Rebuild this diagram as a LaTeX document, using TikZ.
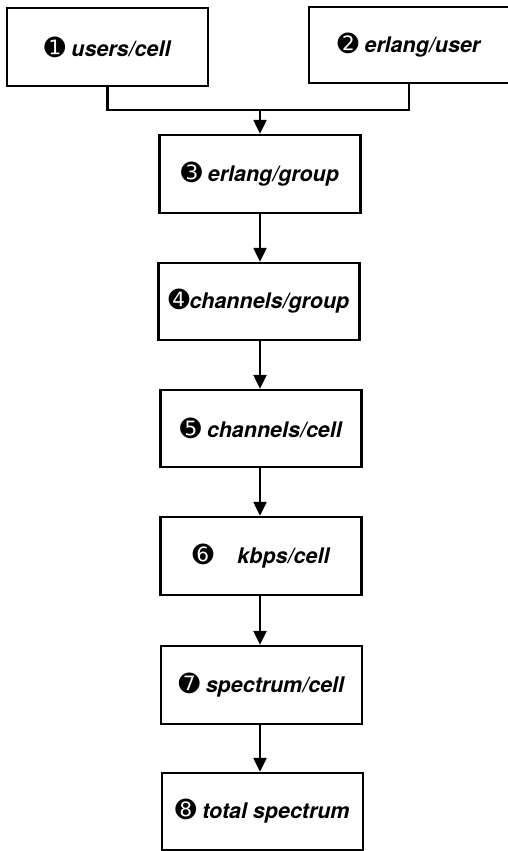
\documentclass[tikz,border=0pt]{standalone}
\usepackage{fontspec}
\setmainfont{TeX Gyre Heros}
\newfontfamily\dvfont{DejaVu Sans}
\usetikzlibrary{arrows.meta}
\newcommand{\cnum}[1]{{\dvfont\upshape\mdseries\fontsize{25}{25}\selectfont #1}}
\tikzset{
  flowbox/.style={draw, line width=2.5pt, minimum width=201pt, minimum height=77pt, inner sep=0pt,
    font=\fontsize{21.5}{24}\selectfont\bfseries\itshape},
  conn/.style={line width=2.5pt},
  arr/.style={line width=2.5pt, -{Triangle[width=13pt,length=14pt]}}
}
\begin{document}
\begin{tikzpicture}[x=1pt,y=-1pt]
\useasboundingbox (0,0) rectangle (508,851);
\node[flowbox, minimum height=78pt] (b1) at (107.5,47) {\cnum{➊}\hspace{6pt}users/cell};
\node[flowbox, minimum width=200pt, minimum height=76pt] (b2) at (409,45) {\cnum{➋}\hspace{6pt}erlang/user};
\node[flowbox, minimum height=78pt] (b3) at (260,174) {\cnum{➌}\hspace{6pt}erlang/group};
\node[flowbox] (b4) at (259,301.5) {\cnum{➍}channels/group};
\node[flowbox] (b5) at (261,428.5) {\cnum{➎}\hspace{6pt}channels/cell};
\node[flowbox, minimum height=78pt] (b6) at (261,556) {\cnum{➏}\hspace{24pt}kbps/cell};
\node[flowbox, minimum height=78pt] (b7) at (261.5,685) {\cnum{➐}\hspace{6pt}spectrum/cell};
\node[flowbox] (b8) at (262.5,811.5) {\cnum{➑}\hspace{6pt}total spectrum};
\coordinate (j) at (260,110);
\draw[conn] (b1.south) |- (j);
\draw[conn] (b2.south) |- (j);
\draw[arr] (j) -- (b3.north);
\draw[arr] (b3.south) -- (b4.north -| b3.south);
\draw[arr] (b4.south -| b3.south) -- (b5.north -| b3.south);
\draw[arr] (b5.south -| b3.south) -- (b6.north -| b3.south);
\draw[arr] (b6.south -| b3.south) -- (b7.north -| b3.south);
\draw[arr] (b7.south -| b3.south) -- (b8.north -| b3.south);
\end{tikzpicture}
\end{document}
